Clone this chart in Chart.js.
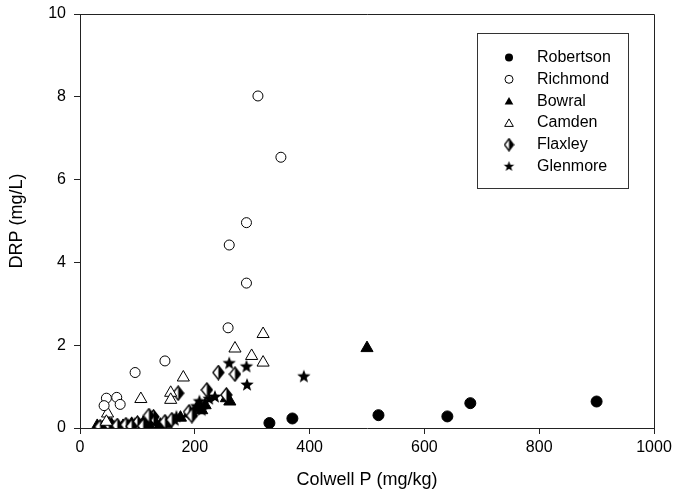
<!DOCTYPE html>
<html>
<head>
<meta charset="utf-8">
<script src="https://cdn.jsdelivr.net/npm/chart.js"></script>
<style>
  html, body { margin: 0; padding: 0; background: #fff; }
  #chart { display: block; }
</style>
</head>
<body>
<canvas id="chart" width="674" height="499"></canvas>
<script>
'use strict';

// values (Colwell P in mg/kg, DRP in mg/L)
var robertsonX = [330, 370, 520, 640, 680, 900];
var robertsonY = [0.12, 0.23, 0.31, 0.28, 0.60, 0.64];

var richmondX = [310, 350, 290, 260, 290, 258, 148, 96, 46, 64, 70, 42];
var richmondY = [8.02, 6.54, 4.96, 4.42, 3.50, 2.42, 1.62, 1.34, 0.72, 0.74, 0.57, 0.54];

var bowralX = [500, 255, 261, 218, 212, 205, 190, 175, 150, 130, 110, 90, 75, 55, 40, 30, 140, 120, 100, 65];
var bowralY = [1.93, 0.72, 0.64, 0.55, 0.43, 0.50, 0.35, 0.25, 0.10, 0.15, 0.12, 0.10, 0.05, 0.08, 0.02, 0.05, 0.08, 0.06, 0.04, 0.03];

var camdenX = [319, 270, 299, 319, 180, 158, 158, 106, 48, 46];
var camdenY = [2.27, 1.92, 1.74, 1.58, 1.22, 0.85, 0.68, 0.70, 0.35, 0.15];

var flaxleyX = [241, 270, 221, 255, 171, 190, 148, 128, 120, 160, 195, 35, 50, 65, 80, 100, 110, 90];
var flaxleyY = [1.34, 1.30, 0.92, 0.80, 0.84, 0.39, 0.15, 0.27, 0.30, 0.20, 0.30, 0.03, 0.10, 0.06, 0.08, 0.12, 0.05, 0.04];

var glenmoreX = [390, 260, 290, 291, 208, 203, 197, 168, 165, 212, 45, 60, 85, 95, 105, 115, 135, 225, 235];
var glenmoreY = [1.24, 1.56, 1.48, 1.04, 0.64, 0.52, 0.39, 0.27, 0.19, 0.43, 0.05, 0.04, 0.07, 0.10, 0.08, 0.13, 0.06, 0.70, 0.75];

var siteNames = ['Robertson', 'Richmond', 'Bowral', 'Camden', 'Flaxley', 'Glenmore'];
var xTicks = [0, 200, 400, 600, 800, 1000];
var yTicks = [0, 2, 4, 6, 8, 10];

var FONT = '"Liberation Sans", Arial, sans-serif';

function pairs(xs, ys) {
  var out = [];
  for (var i = 0; i < xs.length; i++) out.push({ x: xs[i], y: ys[i] });
  return out;
}

function starImage(r) {
  var c = document.createElement('canvas');
  var s = Math.ceil(r * 2 + 2);
  c.width = s; c.height = s;
  var g = c.getContext('2d');
  var cx = s / 2, cy = s / 2, inner = r * 0.42;
  g.beginPath();
  for (var i = 0; i < 10; i++) {
    var rad = (i % 2 === 0) ? r : inner;
    var a = -Math.PI / 2 + i * Math.PI / 5;
    var px = cx + Math.cos(a) * rad, py = cy + Math.sin(a) * rad;
    if (i === 0) g.moveTo(px, py); else g.lineTo(px, py);
  }
  g.closePath();
  g.fillStyle = '#000';
  g.fill();
  return c;
}

function halfDiamondImage(hw, hh) {
  var c = document.createElement('canvas');
  var w = Math.ceil(hw * 2 + 2), h = Math.ceil(hh * 2 + 2);
  c.width = w; c.height = h;
  var g = c.getContext('2d');
  var cx = w / 2, cy = h / 2;
  g.beginPath();
  g.moveTo(cx, cy - hh); g.lineTo(cx + hw, cy); g.lineTo(cx, cy + hh); g.lineTo(cx - hw, cy);
  g.closePath();
  g.fillStyle = '#fff';
  g.fill();
  g.beginPath();
  g.moveTo(cx, cy - hh); g.lineTo(cx + hw, cy); g.lineTo(cx, cy + hh);
  g.closePath();
  g.fillStyle = '#000';
  g.fill();
  g.beginPath();
  g.moveTo(cx, cy - hh); g.lineTo(cx + hw, cy); g.lineTo(cx, cy + hh); g.lineTo(cx - hw, cy);
  g.closePath();
  g.lineWidth = 1.3;
  g.strokeStyle = '#000';
  g.stroke();
  return c;
}

var starPt = starImage(7);
var diamondPt = halfDiamondImage(5.5, 7);
var starLeg = starImage(5.5);
var diamondLeg = halfDiamondImage(4.5, 6);

// legend drawn inside the plot, like the original figure
var boxLegend = {
  id: 'boxLegend',
  afterDraw: function (chart) {
    var ctx = chart.ctx;
    var left = 477, top = 33, right = 628, bottom = 188;
    ctx.save();
    ctx.fillStyle = '#fff';
    ctx.fillRect(left, top, right - left, bottom - top);
    ctx.strokeStyle = '#333';
    ctx.lineWidth = 1;
    ctx.strokeRect(left + 0.5, top + 0.5, right - left, bottom - top);

    var mx = 509, tx = 537, y0 = 57.5, step = 21.8;
    ctx.font = '16px ' + FONT;
    ctx.textBaseline = 'middle';
    ctx.textAlign = 'left';
    for (var i = 0; i < siteNames.length; i++) {
      var y = y0 + i * step;
      ctx.fillStyle = '#000';
      ctx.strokeStyle = '#000';
      ctx.lineWidth = 1;
      ctx.beginPath();
      if (i === 0 || i === 1) {
        ctx.arc(mx, y, 4, 0, Math.PI * 2);
        if (i === 0) { ctx.fill(); } else { ctx.fillStyle = '#fff'; ctx.fill(); ctx.stroke(); }
      } else if (i === 2 || i === 3) {
        var r = 5;
        for (var k = 0; k < 3; k++) {
          var a = -Math.PI / 2 + k * 2 * Math.PI / 3;
          var px = mx + Math.cos(a) * r, py = y + 1 + Math.sin(a) * r;
          if (k === 0) ctx.moveTo(px, py); else ctx.lineTo(px, py);
        }
        ctx.closePath();
        if (i === 2) { ctx.fill(); } else { ctx.fillStyle = '#fff'; ctx.fill(); ctx.stroke(); }
      } else if (i === 4) {
        ctx.drawImage(diamondLeg, mx - diamondLeg.width / 2, y - diamondLeg.height / 2);
      } else {
        ctx.drawImage(starLeg, mx - starLeg.width / 2, y - starLeg.height / 2);
      }
      ctx.fillStyle = '#000';
      ctx.fillText(siteNames[i], tx, y);
    }
    ctx.restore();
  }
};

// top and right edges of the frame
var frame = {
  id: 'frame',
  afterDatasetsDraw: function (chart) {
    var a = chart.chartArea, ctx = chart.ctx;
    ctx.save();
    ctx.strokeStyle = '#222';
    ctx.lineWidth = 1;
    ctx.beginPath();
    ctx.moveTo(a.left, a.top + 0.5);
    ctx.lineTo(a.right + 0.5, a.top + 0.5);
    ctx.lineTo(a.right + 0.5, a.bottom);
    ctx.stroke();
    ctx.restore();
  }
};

function series(label, xs, ys, extra) {
  return Object.assign({
    label: label,
    data: pairs(xs, ys),
    showLine: false,
    pointBorderColor: '#000',
    pointBorderWidth: 1,
    pointHoverRadius: 0
  }, extra);
}

new Chart(document.getElementById('chart').getContext('2d'), {
  type: 'scatter',
  data: {
    datasets: [
      series('Robertson', robertsonX, robertsonY, { pointStyle: 'circle', pointRadius: 5.5, pointBackgroundColor: '#000' }),
      series('Richmond', richmondX, richmondY, { pointStyle: 'circle', pointRadius: 5, pointBackgroundColor: '#fff' }),
      series('Camden', camdenX, camdenY, { pointStyle: 'triangle', pointRadius: 7, pointBackgroundColor: '#fff' }),
      series('Flaxley', flaxleyX, flaxleyY, { pointStyle: diamondPt, pointRadius: 7 }),
      series('Bowral', bowralX, bowralY, { pointStyle: 'triangle', pointRadius: 7, pointBackgroundColor: '#000' }),
      series('Glenmore', glenmoreX, glenmoreY, { pointStyle: starPt, pointRadius: 7 })
    ]
  },
  options: {
    responsive: false,
    devicePixelRatio: 1,
    animation: false,
    layout: { padding: { top: 14, right: 20, left: 0, bottom: 0 } },
    plugins: { legend: { display: false }, tooltip: { enabled: false } },
    scales: {
      x: {
        type: 'linear',
        min: 0,
        max: 1000,
        afterFit: function (s) { s.height = 71; s.paddingLeft = 0; s.paddingRight = 0; },
        afterBuildTicks: function (s) { s.ticks = xTicks.map(function (v) { return { value: v }; }); },
        ticks: {
          color: '#000', font: { family: FONT, size: 16 }, padding: 4, maxRotation: 0,
          callback: function (v) { return String(v); }
        },
        grid: { drawOnChartArea: false, drawTicks: true, tickLength: 6, color: '#222' },
        border: { display: true, color: '#222', width: 1 },
        title: { display: true, text: 'Colwell P (mg/kg)', color: '#000', font: { family: FONT, size: 18 }, padding: { top: 0, bottom: 8 } }
      },
      y: {
        type: 'linear',
        min: 0,
        max: 10,
        afterFit: function (s) { s.width = 80; s.paddingTop = 0; s.paddingBottom = 0; },
        afterBuildTicks: function (s) { s.ticks = yTicks.map(function (v) { return { value: v }; }); },
        ticks: { color: '#000', font: { family: FONT, size: 16 }, padding: 8, callback: function (v) { return String(v); } },
        grid: { drawOnChartArea: false, drawTicks: true, tickLength: 6, color: '#222' },
        border: { display: true, color: '#222', width: 1 },
        title: { display: true, text: 'DRP (mg/L)', color: '#000', font: { family: FONT, size: 18 }, padding: { top: 6, bottom: 0 } }
      }
    }
  },
  plugins: [frame, boxLegend]
});
</script>
</body>
</html>
